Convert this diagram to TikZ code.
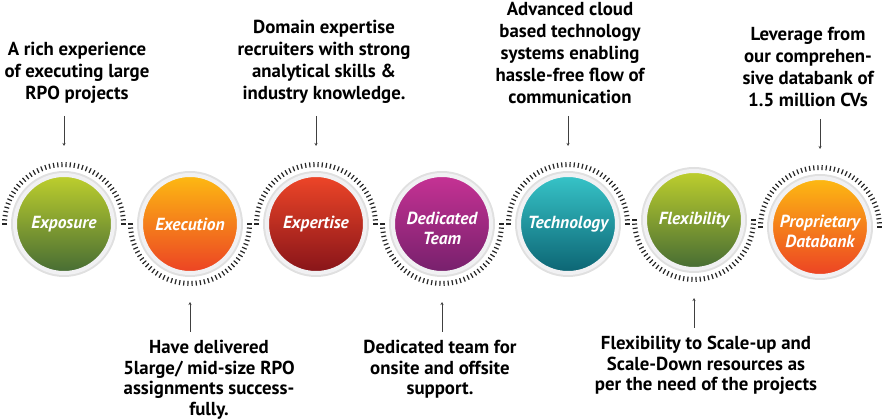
\documentclass[tikz,border=0pt]{standalone}
\usepackage{fontspec}
\setmainfont{PT Sans}
\usepackage{xcolor}
\usepackage{tikz}
\usetikzlibrary{positioning,arrows.meta}
\definecolor{RingGray}{RGB}{241,241,243}
\definecolor{GreenTop}{RGB}{190,207,45}
\definecolor{GreenBot}{RGB}{70,108,52}
\definecolor{OrangeTop}{RGB}{253,186,18}
\definecolor{OrangeBot}{RGB}{236,66,36}
\definecolor{RedTop}{RGB}{238,70,40}
\definecolor{RedBot}{RGB}{135,20,25}
\definecolor{PurpleTop}{RGB}{198,50,148}
\definecolor{PurpleBot}{RGB}{118,32,108}
\definecolor{TealTop}{RGB}{55,196,200}
\definecolor{TealBot}{RGB}{12,100,115}

\begin{document}
\begin{tikzpicture}[
  x=1pt, y=1pt,
  node distance=24pt,
  badge/.style={circle,minimum size=98pt,inner sep=0pt,draw=RingGray,line width=4pt,shading angle=45,align=center,text=white,font=\fontsize{17.5}{20}\selectfont\bfseries\itshape,preaction={draw=black!12,line width=8pt}},
  greenball/.style={badge,top color=GreenTop,bottom color=GreenBot},
  orangeball/.style={badge,top color=OrangeTop,bottom color=OrangeBot},
  redball/.style={badge,top color=RedTop,bottom color=RedBot},
  purpleball/.style={badge,top color=PurpleTop,bottom color=PurpleBot},
  tealball/.style={badge,top color=TealTop,bottom color=TealBot},
  note/.style={inner sep=0pt,align=center,font=\fontsize{18.8}{22}\selectfont\bfseries},
  lownote/.style={note,font=\fontsize{18.8}{20.5}\selectfont\bfseries},
  tick/.style={draw=black!85,line width=1.2pt},
  lead/.style={draw=black!75,line width=0.9pt,-{Stealth[length=3pt,width=3pt]}},
]
\useasboundingbox (0,0) rectangle (885,419);

% Circles
\node[greenball] (exposure) at (64,195) {Exposure};
\node[orangeball,right=of exposure] (execution) {Execution};
\node[redball,right=of execution] (expertise) {Expertise};
\node[purpleball,right=of expertise] (team) {\rule{0pt}{22pt}Dedicated\\Team};
\node[tealball,right=of team] (technology) {Technology};
\node[greenball,right=of technology,yshift=4pt] (flexibility) {Flexibility};
\node[orangeball,right=of flexibility,yshift=-7pt] (databank) {\rule{0pt}{22pt}Proprietary\\Databank};

% Ticks
\foreach \c in {exposure,expertise,technology,databank}
  \foreach \a in {0,4,...,180}
    \draw[tick] (\c.center) ++(\a:57) -- ++(\a:5);
\foreach \c in {execution,team,flexibility}
  \foreach \a in {180,184,...,360}
    \draw[tick] (\c.center) ++(\a:57) -- ++(\a:5);

% Top notes
\foreach \c/\dx/\txt in {exposure/13/{A rich experience\\of executing large\\RPO projects},
    expertise/8/{Domain expertise\\recruiters with strong\\analytical skills \&\\industry knowledge.},
    technology/2/{Advanced cloud\\based technology\\systems enabling\\hassle-free flow of\\communication},
    databank/-12/{Leverage from\\our comprehen-\\sive databank of\\1.5 million CVs}}{
  \coordinate[above=27pt of \c] (\c-pin);
  \coordinate[above=30pt of \c-pin] (\c-lead);
  \draw[lead] (\c-lead) -- (\c-pin);
  \node[note,above=12pt of \c-lead,xshift=\dx pt] (\c-note) {\txt};
}

% Bottom notes
\foreach \c/\dx/\txt in {execution/19/{Have delivered\\5large/ mid-size RPO\\assignments success-\\fully.},
    team/-2/{Dedicated team for\\onsite and offsite\\support.},
    flexibility/12/{Flexibility to Scale-up and\\Scale-Down resources as\\per the need of the projects}}{
  \coordinate[below=27pt of \c] (\c-pin);
  \coordinate[below=30pt of \c-pin] (\c-lead);
  \draw[lead] (\c-lead) -- (\c-pin);
  \node[lownote,below=8pt of \c-lead,xshift=\dx pt] (\c-note) {\txt};
}

\end{tikzpicture}
\end{document}
